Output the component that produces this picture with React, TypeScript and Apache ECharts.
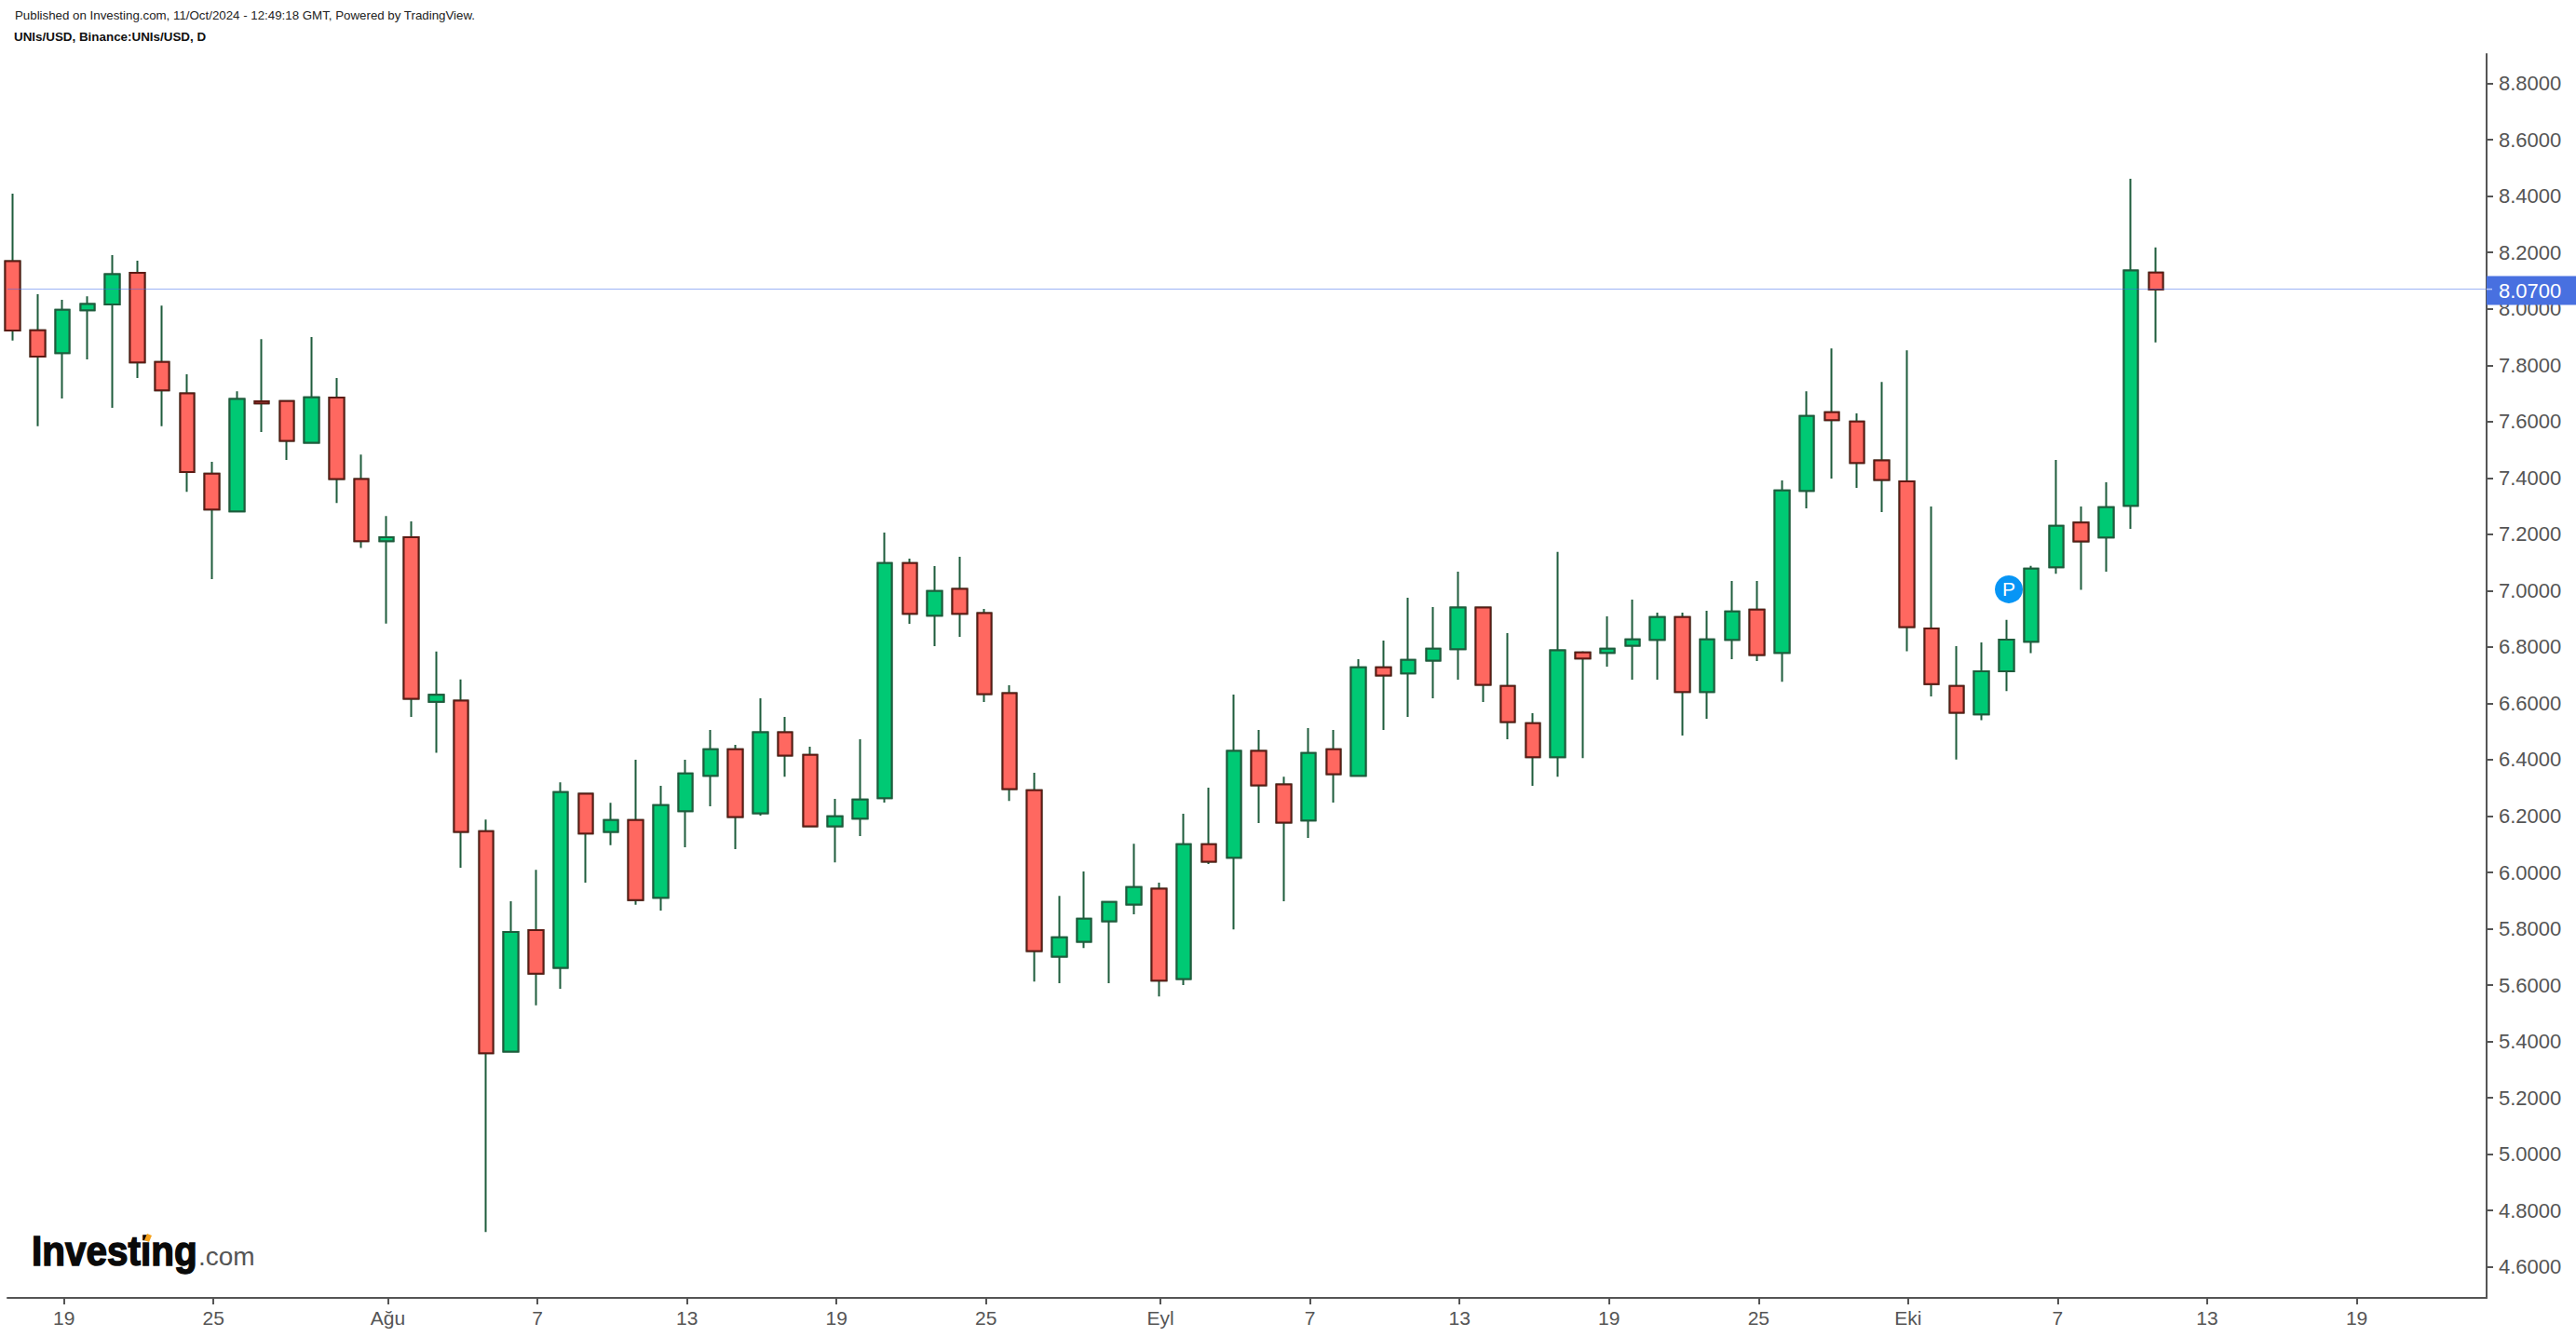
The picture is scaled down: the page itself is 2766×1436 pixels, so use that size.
import React, { useEffect, useRef } from "react";
import * as echarts from "echarts";

// Day index 0 = 17 Jul 2024, index 86 = 11 Oct 2024
const opens = [
  8.169, 7.924, 7.843, 7.995, 8.016, 8.128, 7.812, 7.700, 7.415, 7.281, 7.672, 7.673, 7.525, 7.685, 7.396,
  7.176, 7.190, 6.606, 6.610, 6.146, 5.364, 5.795, 5.661, 6.279, 6.144, 6.186, 5.910, 6.217, 6.343, 6.437,
  6.210, 6.497, 6.417, 6.164, 6.191, 6.264, 7.098, 6.911, 7.006, 6.920, 6.636, 6.292, 5.701, 5.754, 5.827,
  5.886, 5.942, 5.622, 6.100, 6.052, 6.431, 6.312, 6.184, 6.437, 6.343, 6.728, 6.706, 6.752, 6.792, 6.940,
  6.662, 6.530, 6.409, 6.781, 6.779, 6.805, 6.825, 6.906, 6.640, 6.825, 6.933, 6.779, 7.354, 7.633, 7.600,
  7.462, 7.388, 6.866, 6.662, 6.561, 6.714, 6.819, 7.083, 7.242, 7.189, 7.301, 8.129,
];
const closes = [
  7.923, 7.831, 7.997, 8.017, 8.123, 7.810, 7.711, 7.421, 7.288, 7.680, 7.665, 7.532, 7.686, 7.396, 7.176,
  7.190, 6.616, 6.630, 6.144, 5.358, 5.789, 5.641, 6.285, 6.138, 6.186, 5.902, 6.239, 6.351, 6.437, 6.197,
  6.497, 6.415, 6.164, 6.199, 6.259, 7.098, 6.918, 6.999, 6.918, 6.633, 6.296, 5.721, 5.770, 5.836, 5.895,
  5.948, 5.616, 6.100, 6.038, 6.431, 6.309, 6.177, 6.424, 6.349, 6.728, 6.699, 6.754, 6.794, 6.940, 6.666,
  6.534, 6.409, 6.788, 6.759, 6.794, 6.827, 6.906, 6.640, 6.827, 6.926, 6.772, 7.356, 7.620, 7.605, 7.453,
  7.393, 6.871, 6.668, 6.567, 6.714, 6.826, 7.078, 7.230, 7.175, 7.296, 8.136, 8.069,
];
const lows = [
  7.888, 7.584, 7.682, 7.821, 7.649, 7.755, 7.584, 7.351, 7.041, 7.281, 7.563, 7.464, 7.525, 7.311, 7.152,
  6.883, 6.552, 6.425, 6.017, 4.724, 5.364, 5.528, 5.587, 5.964, 6.097, 5.885, 5.865, 6.089, 6.235, 6.083,
  6.202, 6.340, 6.164, 6.036, 6.129, 6.248, 6.882, 6.803, 6.836, 6.605, 6.254, 5.613, 5.607, 5.732, 5.607,
  5.851, 5.560, 5.600, 6.030, 5.798, 6.175, 5.898, 6.122, 6.248, 6.343, 6.506, 6.552, 6.618, 6.684, 6.605,
  6.473, 6.307, 6.340, 6.406, 6.730, 6.684, 6.684, 6.486, 6.545, 6.757, 6.750, 6.677, 7.292, 7.398, 7.365,
  7.279, 6.785, 6.625, 6.401, 6.540, 6.644, 6.778, 7.060, 7.003, 7.067, 7.219, 7.881,
];
const highs = [
  8.409, 8.052, 8.032, 8.045, 8.191, 8.171, 8.012, 7.768, 7.457, 7.708, 7.893, 7.673, 7.900, 7.755, 7.483,
  7.265, 7.246, 6.784, 6.685, 6.188, 5.898, 6.009, 6.320, 6.279, 6.247, 6.400, 6.307, 6.400, 6.506, 6.453,
  6.618, 6.552, 6.446, 6.261, 6.473, 7.206, 7.114, 7.087, 7.120, 6.935, 6.664, 6.354, 5.917, 6.003, 5.895,
  6.102, 5.964, 6.208, 6.301, 6.631, 6.506, 6.340, 6.512, 6.506, 6.757, 6.823, 6.975, 6.942, 7.067, 6.940,
  6.849, 6.565, 7.138, 6.785, 6.909, 6.968, 6.922, 6.922, 6.929, 7.034, 7.034, 7.391, 7.708, 7.860, 7.629,
  7.741, 7.853, 7.299, 6.803, 6.816, 6.896, 7.088, 7.464, 7.299, 7.385, 8.462, 8.218,
];

const xTickIndex = [2.06, 8.06, 15.06, 21.06, 27.06, 33.06, 39.06, 46.06, 52.06, 58.06, 64.06, 70.06, 76.06, 82.06, 88.06, 94.06];
const xTickLabels = ["19", "25", "Ağu", "7", "13", "19", "25", "Eyl", "7", "13", "19", "25", "Eki", "7", "13", "19"];
const yTicks = [
  4.6, 4.8, 5.0, 5.2, 5.4, 5.6, 5.8, 6.0, 6.2, 6.4, 6.6, 6.8, 7.0, 7.2, 7.4, 7.6, 7.8, 8.0, 8.2, 8.4, 8.6, 8.8,
];
const lastPrice = 8.07;
const markerIndex = 80.1;
const markerPrice = 7.005;

const publishedText = "Published on Investing.com, 11/Oct/2024 - 12:49:18 GMT, Powered by TradingView.";
const symbolText = "UNIs/USD, Binance:UNIs/USD, D";

const FONT = '"Liberation Sans", Arial, sans-serif';
const AXIS = "#555555";
const GREEN = "#00C974";
const GREEN_DARK = "#1E5C3C";
const RED = "#FF6860";
const RED_DARK = "#5E1A14";

export default function App() {
  const ref = useRef<HTMLDivElement>(null);

  useEffect(() => {
    if (!ref.current) return;
    const chart = echarts.init(ref.current, undefined, { renderer: "svg" });
    const full = opens.map((o, i) => [i, o, closes[i], lows[i], highs[i]]);
    const bodies = opens.map((o, i) => [i, o, closes[i], Math.min(o, closes[i]), Math.max(o, closes[i])]);
    const labelFor = (v: number) => {
      const i = xTickIndex.findIndex((x) => Math.abs(x - v) < 0.01);
      return i >= 0 ? xTickLabels[i] : "";
    };

    chart.setOption({
      animation: false,
      backgroundColor: "#ffffff",
      textStyle: { fontFamily: FONT },
      grid: { left: 8, right: 96, top: 58, bottom: 42, containLabel: false },
      xAxis: {
        type: "value",
        min: -0.206,
        max: 99.27,
        splitLine: { show: false },
        axisLine: { show: true, onZero: false, lineStyle: { color: AXIS, width: 2 } },
        axisTick: { show: true, length: 7, customValues: xTickIndex, lineStyle: { color: AXIS, width: 2 } },
        axisLabel: {
          customValues: xTickIndex,
          formatter: labelFor,
          color: AXIS,
          fontFamily: FONT,
          fontSize: 21,
          margin: 11,
          hideOverlap: false,
        },
      },
      yAxis: {
        type: "value",
        position: "right",
        min: 4.49,
        max: 8.9046,
        scale: true,
        splitLine: { show: false },
        axisLine: { show: true, onZero: false, lineStyle: { color: AXIS, width: 2 } },
        axisTick: { show: true, length: 7, customValues: yTicks, lineStyle: { color: AXIS, width: 2 } },
        axisLabel: {
          customValues: yTicks,
          formatter: (v: number) => v.toFixed(4),
          color: AXIS,
          fontFamily: FONT,
          fontSize: 22,
          margin: 13,
          padding: [3, 0, 0, 0],
          hideOverlap: false,
        },
      },
      series: [
        {
          name: "wicks",
          type: "candlestick",
          data: full,
          barWidth: 16,
          silent: true,
          clip: true,
          itemStyle: {
            color: GREEN_DARK,
            color0: GREEN_DARK,
            borderColor: GREEN_DARK,
            borderColor0: GREEN_DARK,
            borderWidth: 2,
          },
        },
        {
          name: "UNIs/USD",
          type: "candlestick",
          data: bodies,
          barWidth: 16,
          silent: true,
          clip: true,
          itemStyle: {
            color: GREEN,
            color0: RED,
            borderColor: GREEN_DARK,
            borderColor0: RED_DARK,
            borderWidth: 2,
          },
          markLine: {
            silent: true,
            symbol: "none",
            animation: false,
            lineStyle: { color: "rgba(60,105,235,0.5)", width: 1, type: "solid" },
            label: {
              show: true,
              position: "end",
              distance: 0,
              formatter: () => lastPrice.toFixed(4),
              color: "#ffffff",
              backgroundColor: "#4870E0",
              fontFamily: FONT,
              fontSize: 22,
              padding: [5, 19, 4, 13],
              offset: [0, 1.5],
            },
            data: [{ yAxis: lastPrice }],
          },
          markPoint: {
            silent: true,
            animation: false,
            symbol: "circle",
            symbolSize: 30,
            itemStyle: { color: "#0795F5" },
            label: { show: true, formatter: "P", color: "#ffffff", fontFamily: FONT, fontSize: 21, position: "inside" },
            data: [{ coord: [markerIndex, markerPrice] }],
          },
        },
      ],
      graphic: [
        {
          type: "text",
          x: 16,
          y: 10,
          silent: true,
          style: { text: publishedText, font: `13.3px ${FONT}`, fill: "#222222" },
        },
        {
          type: "text",
          x: 15,
          y: 33,
          silent: true,
          style: { text: symbolText, font: `bold 13.4px ${FONT}`, fill: "#111111" },
        },
        {
          type: "text",
          x: 34,
          y: 1322,
          scaleX: 0.92,
          silent: true,
          style: { text: "Investing", font: `bold 44px ${FONT}`, fill: "#0a0a0a", stroke: "#0a0a0a", lineWidth: 1.5 },
        },
        {
          type: "text",
          x: 213,
          y: 1335,
          silent: true,
          style: { text: ".com", font: `28px ${FONT}`, fill: "#555555" },
        },
        {
          type: "polygon",
          silent: true,
          shape: { points: [[158, 1325], [163, 1327], [160, 1334], [155, 1332]] },
          style: { fill: "#F7A21B" },
        },
        {
          type: "line",
          silent: true,
          z: 100,
          shape: { x1: 2670, y1: 310.6, x2: 2676, y2: 310.6 },
          style: { stroke: "#b9c8f5", lineWidth: 1.5 },
        },
      ],
    });
    return () => chart.dispose();
  }, []);

  return <div ref={ref} style={{ position: "absolute", left: 0, top: 0, width: 2766, height: 1436 }} />;
}
